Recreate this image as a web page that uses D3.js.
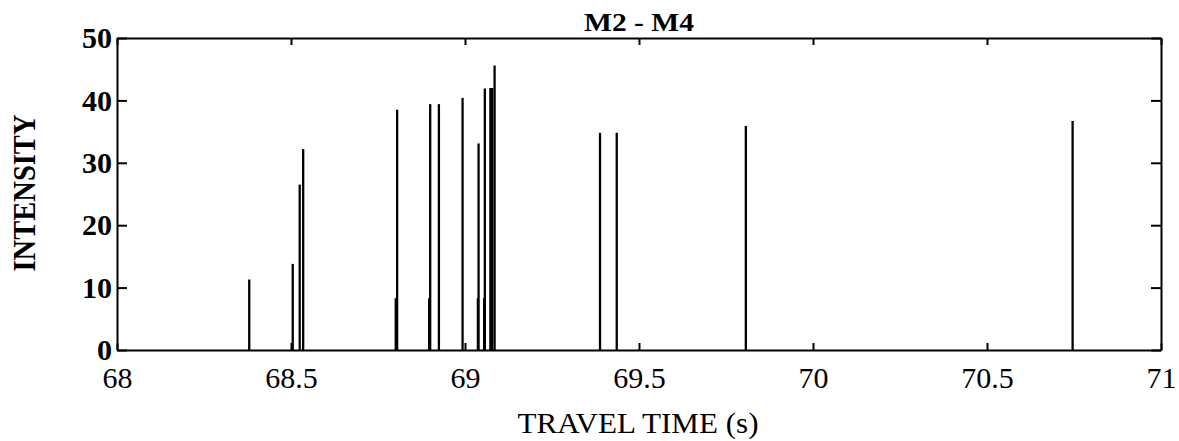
<!DOCTYPE html>
<html>
<head>
<meta charset="utf-8">
<script src="https://cdn.jsdelivr.net/npm/d3@7"></script>
<style>
  body { margin: 0; background: #fff; }
  svg { display: block; font-family: "Liberation Serif", "Times New Roman", serif; }
</style>
</head>
<body>
<svg id="chart" width="1179" height="441"></svg>
<script>
const svg = d3.select("#chart");

// arrival times (s) and intensities of the spikes
const times = [68.38, 68.505, 68.525, 68.535, 68.801, 68.805, 68.897, 68.90, 68.925,
  68.993, 69.037, 69.039, 69.055, 69.057, 69.073, 69.078, 69.085,
  69.388, 69.436, 69.807, 70.746];
const intensities = [11.3, 13.8, 26.5, 32.2, 8.3, 38.5, 8.3, 39.4, 39.4,
  40.4, 8.3, 33.1, 8.3, 41.9, 42.0, 42.0, 45.6,
  34.8, 34.8, 35.9, 36.7];
const xTicks = [68, 68.5, 69, 69.5, 70, 70.5, 71];
const yTicks = [0, 10, 20, 30, 40, 50];

const spikes = times.map((t, i) => ({ t, v: intensities[i] }));

const plotLeft = 117, plotRight = 1161, plotTop = 38, plotBottom = 350;

const x = d3.scaleLinear().domain([68, 71]).range([plotLeft, plotRight]);
const y = d3.scaleLinear().domain([0, 50]).range([plotBottom, plotTop]);

// spikes
svg.append("g")
  .selectAll("line")
  .data(spikes)
  .join("line")
  .attr("x1", d => x(d.t))
  .attr("x2", d => x(d.t))
  .attr("y1", y(0))
  .attr("y2", d => y(d.v))
  .attr("stroke", "#000")
  .attr("stroke-width", 2.3);

// axes, ticks pointing inward on all sides
const fmt = d => d3.format("")(d);

const gx = svg.append("g").attr("transform", `translate(0,${plotBottom})`)
  .call(d3.axisBottom(x).tickValues(xTicks).tickFormat(fmt).tickSizeInner(-7).tickSizeOuter(0).tickPadding(17));
const gxTop = svg.append("g").attr("transform", `translate(0,${plotTop})`)
  .call(d3.axisTop(x).tickValues(xTicks).tickFormat("").tickSizeInner(-7).tickSizeOuter(0));
const gy = svg.append("g").attr("transform", `translate(${plotLeft},0)`)
  .call(d3.axisLeft(y).tickValues(yTicks).tickSizeInner(-10).tickSizeOuter(0).tickPadding(5));
const gyRight = svg.append("g").attr("transform", `translate(${plotRight},0)`)
  .call(d3.axisRight(y).tickValues(yTicks).tickFormat("").tickSizeInner(-10).tickSizeOuter(0));

[gx, gxTop, gy, gyRight].forEach(g => {
  g.select(".domain").attr("stroke", "#000").attr("stroke-width", 2);
  g.selectAll(".tick line").attr("stroke", "#000").attr("stroke-width", 2);
});

gx.selectAll("text")
  .attr("font-family", "Liberation Serif, serif")
  .attr("font-size", 30)
  .attr("fill", "#000");
gy.selectAll("text")
  .attr("font-family", "Liberation Serif, serif")
  .attr("font-size", 30)
  .attr("font-weight", "bold")
  .attr("fill", "#000");

// title
svg.append("text")
  .attr("x", (plotLeft + plotRight) / 2)
  .attr("y", 31)
  .attr("text-anchor", "middle")
  .attr("font-size", 25)
  .attr("font-weight", "bold")
  .attr("textLength", 110)
  .attr("lengthAdjust", "spacingAndGlyphs")
  .text("M2 - M4");

// x label
svg.append("text")
  .attr("x", 638)
  .attr("y", 433)
  .attr("text-anchor", "middle")
  .attr("font-size", 29)
  .attr("textLength", 241)
  .attr("lengthAdjust", "spacingAndGlyphs")
  .text("TRAVEL TIME (s)");

// y label
svg.append("text")
  .attr("transform", "translate(35,193) rotate(-90)")
  .attr("text-anchor", "middle")
  .attr("font-size", 32)
  .attr("font-weight", "bold")
  .attr("textLength", 157)
  .attr("lengthAdjust", "spacingAndGlyphs")
  .text("INTENSITY");
</script>
</body>
</html>
